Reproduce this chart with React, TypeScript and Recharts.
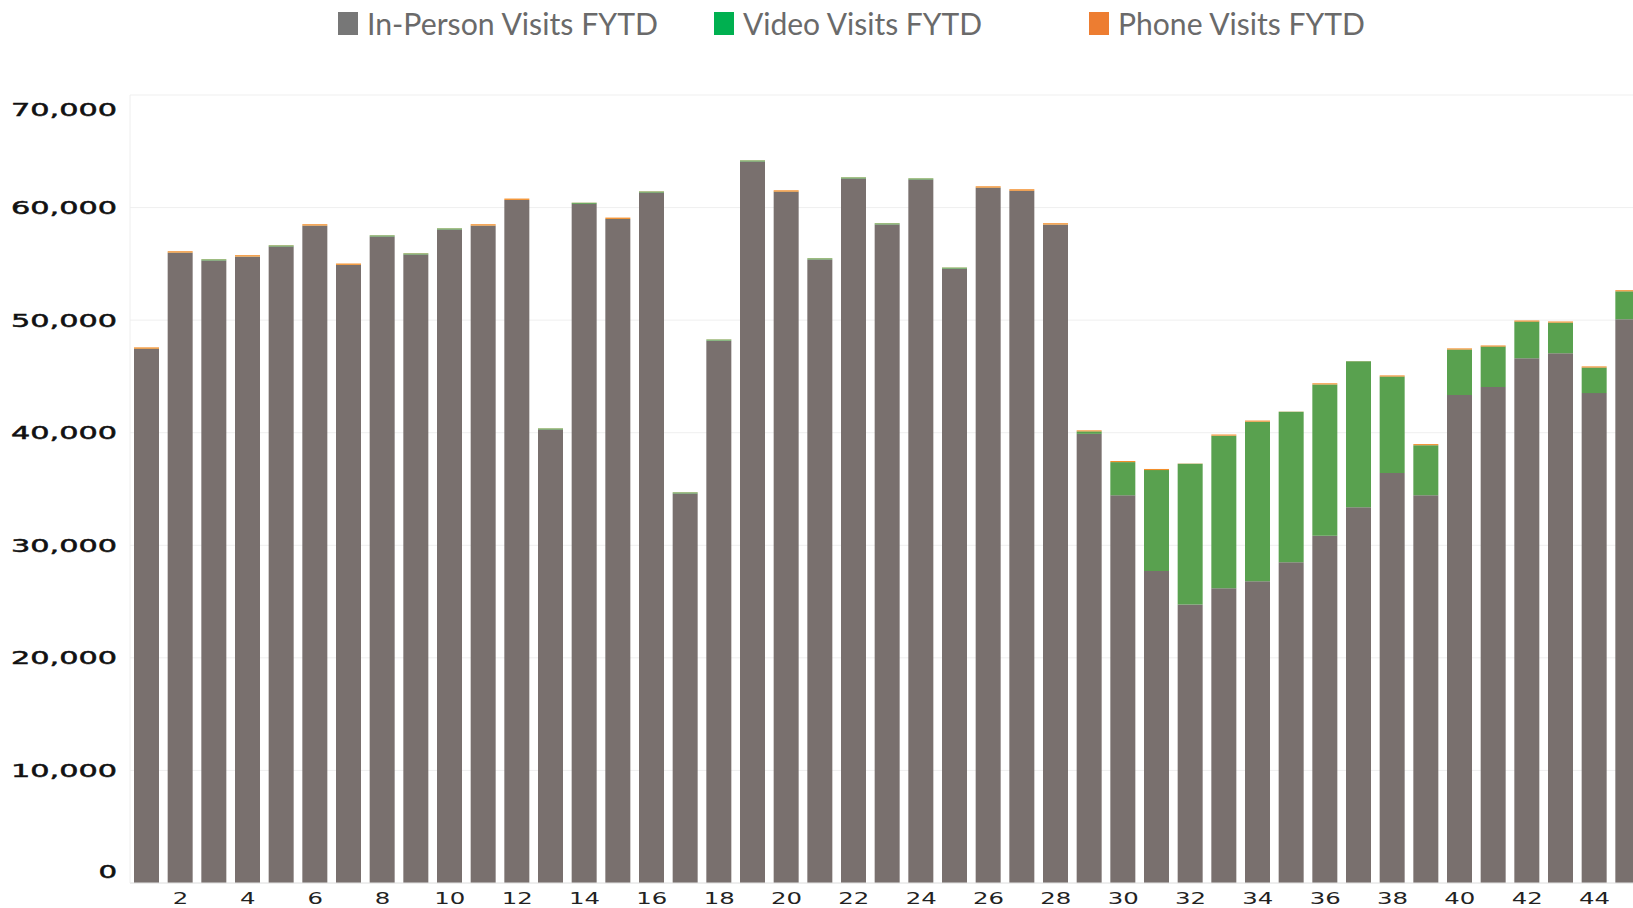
import { BarChart, Bar, XAxis, YAxis, CartesianGrid } from "recharts";

// fiscal weeks 1..45
const weeks = [
  1, 2, 3, 4, 5, 6, 7, 8, 9, 10, 11, 12, 13, 14, 15, 16, 17, 18, 19, 20, 21, 22, 23,
  24, 25, 26, 27, 28, 29, 30, 31, 32, 33, 34, 35, 36, 37, 38, 39, 40, 41, 42, 43, 44, 45,
];

const inPerson = [
  47450, 55990, 55300, 55640, 56540, 58390, 54900, 57430, 55830, 58050, 58390, 60670,
  40280, 60330, 58980, 61330, 34600, 48180, 64090, 61400, 55390, 62580, 58500, 62490,
  54570, 61760, 61490, 58480, 39900, 34440, 27720, 24740, 26190, 26810, 28500, 30840,
  33380, 36420, 34440, 43340, 44050, 46620, 47060, 43520, 50080,
];

const video = [
  10, 10, 100, 10, 100, 10, 10, 100, 100, 100, 10, 10, 100, 100, 10, 100, 100, 100,
  100, 15, 100, 100, 100, 100, 100, 10, 10, 10, 220, 2950, 8960, 12500, 13550, 14170,
  13360, 13450, 12960, 8570, 4450, 4050, 3600, 3250, 2720, 2270, 2480,
];

const phone = [
  120, 120, 10, 120, 15, 120, 120, 10, 15, 10, 120, 120, 10, 10, 120, 15, 10, 10, 10,
  120, 10, 10, 10, 10, 10, 120, 120, 120, 90, 100, 100, 20, 100, 100, 15, 100, 10, 100,
  100, 100, 100, 100, 100, 100, 100,
];

const yTicks = [0, 10000, 20000, 30000, 40000, 50000, 60000, 70000];

const legendItems = [
  { label: "In-Person Visits FYTD", color: "#777777", x: 338, textW: 291 },
  { label: "Video Visits FYTD", color: "#00b050", x: 714, textW: 239 },
  { label: "Phone Visits FYTD", color: "#ed7d31", x: 1089, textW: 247 },
];

const data = weeks.map((w, i) => ({
  week: w,
  inPerson: inPerson[i],
  video: video[i],
  phone: phone[i],
}));

const fmt = (v: number) => v.toLocaleString("en-US");

const YTick = ({ x, y, payload }: any) => {
  const label = fmt(payload.value);
  const digits = label.replace(/,/g, "").length;
  const commas = label.length - digits;
  // end labels are nudged inside the plot like the original
  let dy = 0;
  if (payload.value === 70000) dy = 14;
  if (payload.value === 0) dy = -12;
  return (
    <text
      x={x}
      y={y + dy}
      textAnchor="end"
      dominantBaseline="central"
      fontFamily="DejaVu Sans"
      fontSize={18}
      fill="#111"
      stroke="#111"
      strokeWidth={0.5}
      textLength={digits * 18.6 + commas * 13}
      lengthAdjust="spacingAndGlyphs"
    >
      {label}
    </text>
  );
};

const XTick = ({ x, y, payload }: any) => {
  if (payload.value % 2 !== 0) return null;
  const label = String(payload.value);
  return (
    <text
      x={x}
      y={y + 15}
      textAnchor="middle"
      dominantBaseline="central"
      fontFamily="DejaVu Sans"
      fontSize={16}
      fill="#222"
      textLength={label.length * 15.5}
      lengthAdjust="spacingAndGlyphs"
    >
      {label}
    </text>
  );
};

export default function App() {
  return (
    <div
      style={{
        position: "fixed",
        top: 0,
        left: 0,
        width: 1633,
        height: 908,
        overflow: "hidden",
        background: "#fff",
      }}
    >
      <svg
        width={1633}
        height={50}
        style={{ position: "absolute", top: 0, left: 0 }}
      >
        {legendItems.map((it) => (
          <g key={it.label}>
            <rect x={it.x} y={12} width={20} height={23} fill={it.color} />
            <text
              x={it.x + 29}
              y={34.7}
              fontFamily="Lato"
              fontSize={30}
              fill="#6a6a6a"
              textLength={it.textW}
              lengthAdjust="spacingAndGlyphs"
            >
              {it.label}
            </text>
          </g>
        ))}
      </svg>
      <BarChart
        width={1650}
        height={908}
        data={data}
        margin={{ top: 95, right: 5, left: 0, bottom: 0 }}
        barSize={25}
      >
        <CartesianGrid stroke="#efefef" vertical={false} />
        <XAxis
          dataKey="week"
          height={25}
          interval={0}
          tickLine={false}
          tickSize={0}
          tickMargin={0}
          axisLine={{ stroke: "#e4e4e4" }}
          tick={<XTick />}
        />
        <YAxis
          width={130}
          domain={[0, 70000]}
          ticks={yTicks}
          tickLine={false}
          tickSize={0}
          tickMargin={13}
          axisLine={{ stroke: "#eeeeee" }}
          tick={<YTick />}
        />
        <Bar dataKey="inPerson" stackId="v" fill="#79706e" isAnimationActive={false} />
        <Bar dataKey="video" stackId="v" fill="#59a14f" isAnimationActive={false} />
        <Bar dataKey="phone" stackId="v" fill="#f28e2b" isAnimationActive={false} />
      </BarChart>
    </div>
  );
}
